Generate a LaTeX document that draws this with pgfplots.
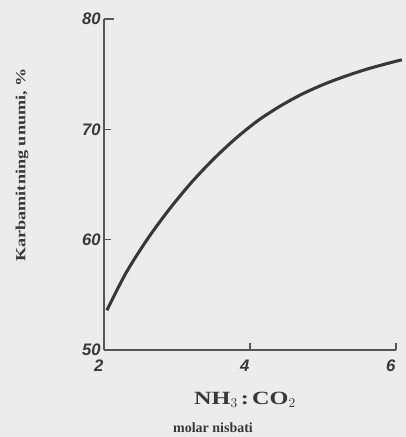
\documentclass[border=0pt]{standalone}
\usepackage{fontspec}
\setmainfont{Liberation Serif}
\newfontfamily\tickfont{Liberation Sans}
\newfontfamily\wideserif[FakeStretch=1.3]{Liberation Serif}
\usepackage{pgfplots}
\pgfplotsset{compat=1.18}
\definecolor{ink}{gray}{0.22}
\definecolor{paper}{gray}{0.925}
\begin{document}
\begin{tikzpicture}
\fill[paper] (0,0) rectangle (304.5pt,327.75pt);
\useasboundingbox (0,0) rectangle (304.5pt,327.75pt);
\begin{axis}[
  at={(78pt,65.25pt)}, anchor=south west,
  scale only axis, width=219pt, height=248.25pt,
  axis lines=left,
  axis line style={draw=ink!85, line width=1.9pt, -},
  xmin=2, xmax=6, ymin=50, ymax=80,
  xtick={2,4,6}, ytick={50,60,70,80},
  tick align=inside, major tick length=5pt,
  tick style={draw=ink!85, line width=1pt},
  clip=false,
  /pgf/number format/assume math mode=true,
  ticklabel style={font=\tickfont\bfseries\itshape\fontsize{12.5}{14}\selectfont, text=ink},
  yticklabel style={xshift=1pt},
  xticklabel style={xshift=-4pt, yshift=-4pt},
]
\addplot[ink, line width=2.3pt, smooth, tension=0.5] coordinates {
  (2.04,53.6) (2.30,56.97) (2.60,60.1) (2.90,62.8) (3.20,65.2) (3.50,67.3)
  (3.80,69.15) (4.10,70.75) (4.40,72.05) (4.70,73.15) (5.00,74.05)
  (5.30,74.8) (5.60,75.45) (5.90,76.0) (6.08,76.3)
};
\draw[ink!85, line width=1.9pt] (axis cs:2,80) -- (axis cs:2.14,80);
\end{axis}
\node[rotate=90, text=ink, font=\wideserif\bfseries\fontsize{10.5}{12}\selectfont] at (16.5pt,204pt) {Karbamitning unumi, \%};
\node[text=ink, font=\wideserif\bfseries\fontsize{14}{16}\selectfont] at (183.75pt,27.75pt) {NH$_3$\,:\,CO$_2$};
\node[text=ink, font=\bfseries\fontsize{10.5}{12}\selectfont] at (159.75pt,6.75pt) {molar nisbati};
\end{tikzpicture}
\end{document}
